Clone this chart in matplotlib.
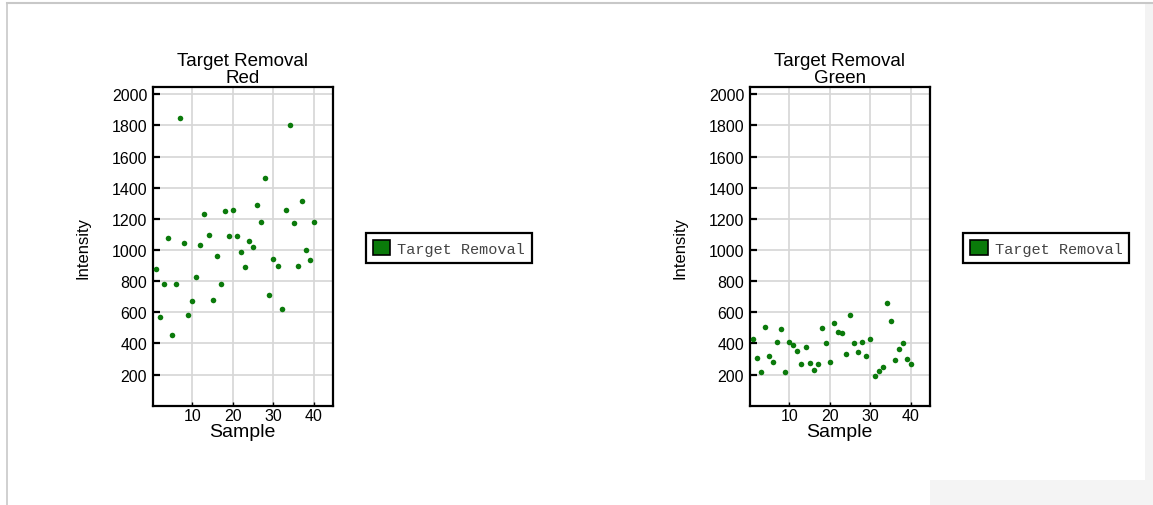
import matplotlib.pyplot as plt
from matplotlib.patches import Patch, Rectangle
import numpy as np

plt.rcParams['font.family'] = ['Liberation Sans', 'DejaVu Sans']

samples = np.arange(1, 41)

red = [880, 567, 780, 1080, 455, 780, 1846, 1045, 584, 670,
       824, 1029, 1232, 1097, 678, 960, 780, 1249, 1089, 1260,
       1089, 986, 892, 1055, 1018, 1286, 1183, 1463, 712, 943,
       900, 618, 1260, 1806, 1174, 900, 1312, 1003, 935, 1183]

green = [429, 309, 215, 507, 318, 283, 412, 490, 215, 412,
         387, 352, 266, 378, 275, 232, 266, 498, 403, 283,
         532, 472, 464, 335, 584, 403, 343, 412, 318, 429,
         189, 223, 249, 661, 541, 292, 361, 403, 300, 266]

titles = ['Target Removal\nRed', 'Target Removal\nGreen']
series = [red, green]
yticks = list(range(200, 2001, 200))
xticks = [10, 20, 30, 40]
dot_colour = '#0b7a0b'

W, H = 1153, 506
fig = plt.figure(figsize=(W / 100, H / 100), dpi=100)

# page frame
fig.add_artist(plt.Line2D([7 / W, 1153 / W], [1 - 4 / H, 1 - 4 / H], transform=fig.transFigure,
                          color='#c8c8c8', lw=1.5))
fig.add_artist(plt.Line2D([7 / W, 7 / W], [0, 1 - 4 / H], transform=fig.transFigure,
                          color='#c8c8c8', lw=1.2))
fig.add_artist(Rectangle((1145 / W, 0), 8 / W, 1 - 5 / H, transform=fig.transFigure,
                         color='#f3f3f3', lw=0))
fig.add_artist(Rectangle((930 / W, 0), 223 / W, 25 / H, transform=fig.transFigure,
                         color='#f4f4f4', lw=0))

lefts = [152.7, 749.7]
legend_x = [365.7, 963.3]
ax_w = 180.0
ax_top, ax_bot = 88.3, 406.7

for i in range(2):
    ax = fig.add_axes([lefts[i] / W, 1 - ax_bot / H, ax_w / W, (ax_bot - ax_top) / H])
    ax.plot(samples, series[i], 'o', color=dot_colour, ms=4, mec='none', zorder=3)
    ax.set_xlim(0.25, 44.6)
    ax.set_ylim(0, 2045)
    ax.set_xticks(xticks)
    ax.set_yticks(yticks)
    ax.grid(True, color='#d6d6d6', lw=1.2)
    ax.set_axisbelow(True)
    for s in ax.spines.values():
        s.set_linewidth(1.6)
        s.set_color('black')
    ax.tick_params(axis='y', direction='in', length=5, width=1.6, labelsize=11.5, pad=4)
    ax.tick_params(axis='x', direction='in', length=3, width=1, labelsize=11.5, pad=2)
    ax.set_title(titles[i], fontsize=13.5, pad=4, linespacing=1.0)
    ax.set_xlabel('Sample', fontsize=14, labelpad=0)
    ax.set_ylabel('Intensity', fontsize=12, labelpad=15)

    handle = Patch(facecolor='#0a7a0a', edgecolor='black', lw=1.2)
    leg = fig.legend([handle], ['Target Removal'], loc='center left',
                     bbox_to_anchor=(legend_x[i] / W, 1 - 249 / H),
                     prop={'family': 'Liberation Mono', 'size': 11},
                     fancybox=False, framealpha=1, edgecolor='black',
                     handlelength=1.15, handleheight=1.1, handletextpad=0.45,
                     borderpad=0.45, borderaxespad=0)
    leg.get_frame().set_linewidth(1.6)
    for t in leg.get_texts():
        t.set_color('#444444')

fig.savefig('out.png', dpi=100)
